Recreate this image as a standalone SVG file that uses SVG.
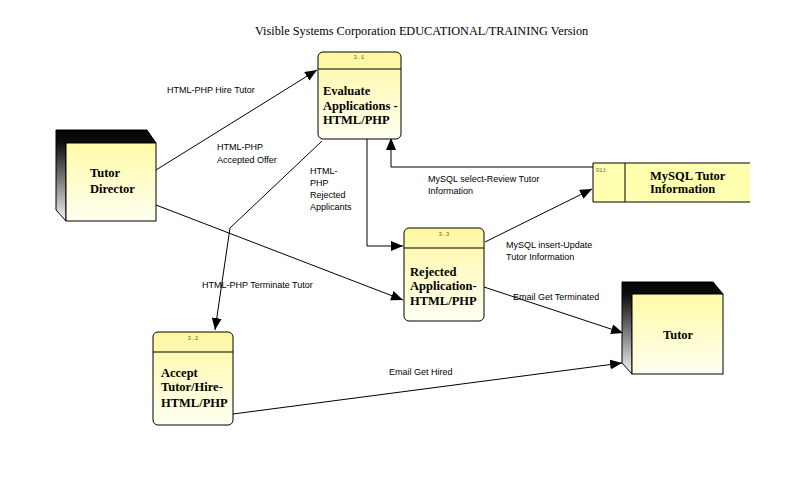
<svg xmlns="http://www.w3.org/2000/svg" width="805" height="482" viewBox="0 0 805 482">
<style>
.lbl{font-family:"Liberation Sans",Arial,sans-serif;font-size:9px;fill:#000}
.nt{font-family:"Liberation Serif","Times New Roman",serif;font-size:12.5px;font-weight:bold;fill:#000}
.id{font-family:"Liberation Mono",monospace;font-size:6px;fill:#806040;text-anchor:middle}
.proc{fill:url(#pg);stroke:#000;stroke-width:1}
.ent{fill:url(#eg);stroke:#000;stroke-width:1}
.sh{fill:url(#sg);stroke:#000;stroke-width:1}
.c{fill:none;stroke:#000;stroke-width:1;marker-end:url(#ah)}
</style>
<defs>
<linearGradient id="pg" x1="0" y1="0" x2="0" y2="1"><stop offset="0" stop-color="#FFF7A0"/><stop offset="1" stop-color="#FFFFF2"/></linearGradient>
<linearGradient id="eg" x1="0" y1="0" x2="0" y2="1"><stop offset="0" stop-color="#FFFBA8"/><stop offset="1" stop-color="#FFFFF0"/></linearGradient>
<linearGradient id="sg" x1="0" y1="0" x2="0" y2="1"><stop offset="0" stop-color="#000"/><stop offset="0.15" stop-color="#111"/><stop offset="1" stop-color="#F4F4F4"/></linearGradient>
<marker id="ah" markerWidth="12" markerHeight="10" refX="12" refY="5" orient="auto" markerUnits="userSpaceOnUse"><path d="M0,0 L12,5 L0,10 Z" fill="#000"/></marker>
</defs>
<rect width="805" height="482" fill="#fff"/>
<text x="255" y="35" style="font-family:'Liberation Serif','Times New Roman',serif;font-size:12.25px">Visible Systems Corporation EDUCATIONAL/TRAINING Version</text>

<g id="connectors">
<path class="c" d="M156,170 L317,70"/>
<path class="c" d="M322,141 L230,228 L215,330"/>
<path class="c" d="M156,205 L403,300"/>
<path class="c" d="M367,139 L367,246 L403,246"/>
<path class="c" d="M593,167 L391,167 L391,138"/>
<path class="c" d="M485,242 L592,189"/>
<path class="c" d="M484,287 L623,333"/>
<path class="c" d="M233,414 L622,363"/>
<text class="lbl" x="167" y="93">HTML-PHP Hire Tutor</text>
<text class="lbl" x="217" y="150">HTML-PHP</text>
<text class="lbl" x="217" y="163">Accepted Offer</text>
<text class="lbl" x="310" y="174">HTML-</text>
<text class="lbl" x="310" y="186">PHP</text>
<text class="lbl" x="310" y="198">Rejected</text>
<text class="lbl" x="310" y="210">Applicants</text>
<text class="lbl" x="428" y="182">MySQL select-Review Tutor</text>
<text class="lbl" x="428" y="194">Information</text>
<text class="lbl" x="506" y="248">MySQL insert-Update</text>
<text class="lbl" x="506" y="260">Tutor Information</text>
<text class="lbl" x="202" y="288">HTML-PHP Terminate Tutor</text>
<text class="lbl" x="513" y="300">Email Get Terminated</text>
<text class="lbl" x="389" y="375">Email Get Hired</text>
</g>

<g id="tutor-director">
<polygon class="sh" points="56,130 147,130 156,143 66,143 66,221 56,210"/>
<rect class="ent" x="66" y="143" width="90" height="78"/>
<text class="nt" x="90" y="177">Tutor</text>
<text class="nt" x="90" y="193">Director</text>
</g>

<g id="p3-1">
<rect class="proc" x="318" y="52" width="83" height="87" rx="5"/>
<line x1="318" y1="69" x2="401" y2="69" stroke="#000"/>
<text class="id" x="359" y="59">3.1</text>
<text class="nt" x="323" y="95">Evaluate</text>
<text class="nt" x="323" y="110">Applications -</text>
<text class="nt" x="323" y="124">HTML/PHP</text>
</g>

<g id="p3-3">
<rect class="proc" x="404" y="228" width="80" height="93" rx="5"/>
<line x1="404" y1="248" x2="484" y2="248" stroke="#000"/>
<text class="id" x="444" y="236">3.3</text>
<text class="nt" x="410" y="276">Rejected</text>
<text class="nt" x="410" y="290">Application-</text>
<text class="nt" x="410" y="305">HTML/PHP</text>
</g>

<g id="p3-2">
<rect class="proc" x="153" y="332" width="80" height="93" rx="5"/>
<line x1="153" y1="352" x2="233" y2="352" stroke="#000"/>
<text class="id" x="193" y="340">3.2</text>
<text class="nt" x="161" y="377">Accept</text>
<text class="nt" x="161" y="391">Tutor/Hire-</text>
<text class="nt" x="161" y="407">HTML/PHP</text>
</g>

<g id="d11">
<rect x="593" y="163" width="157" height="39" fill="#FFFFB0"/>
<path d="M750,163 L593,163 L593,202 L750,202 M625,163 L625,202" fill="none" stroke="#000"/>
<text class="id" x="601" y="172" style="font-size:5.5px">D11</text>
<text class="nt" x="650" y="180">MySQL Tutor</text>
<text class="nt" x="650" y="193">Information</text>
</g>

<g id="tutor">
<polygon class="sh" points="622,282 713,282 723,294 632,294 632,374 622,363"/>
<rect class="ent" x="632" y="294" width="91" height="80"/>
<text class="nt" x="663" y="339">Tutor</text>
</g>
</svg>
